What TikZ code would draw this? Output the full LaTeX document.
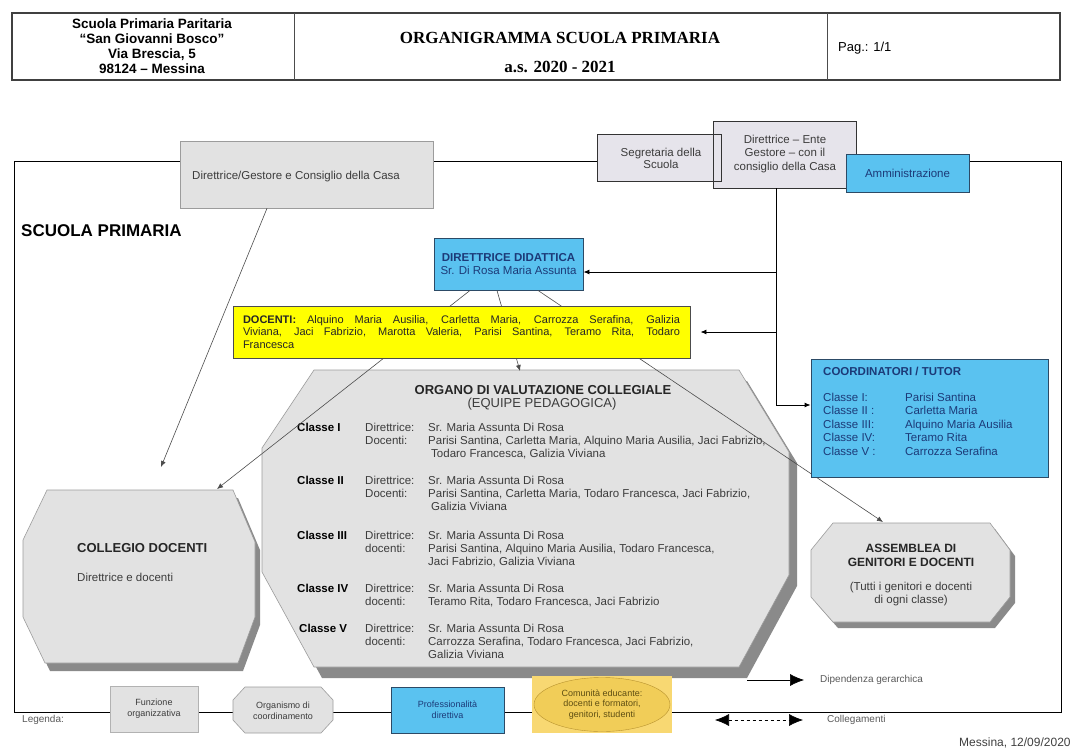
\documentclass[tikz,border=0pt]{standalone}
\usepackage{fontspec}
\setmainfont{Liberation Sans}
\newfontfamily\ttlserif{Liberation Serif}
\usetikzlibrary{arrows.meta,shapes.geometric}
\definecolor{boxgray}{HTML}{E2E2E2}
\definecolor{boxedge}{HTML}{9C9C9C}
\definecolor{lav}{HTML}{E6E4EB}
\definecolor{sky}{HTML}{5AC2F0}
\definecolor{navy}{HTML}{1C3A78}
\definecolor{skyedge}{HTML}{2C4A66}
\definecolor{ylw}{HTML}{FFFF00}
\definecolor{goldbg}{HTML}{F8D872}
\definecolor{goldel}{HTML}{F1CD58}
\definecolor{goldedge}{HTML}{B8922E}
\definecolor{goldtxt}{HTML}{5E4E12}
\definecolor{shade}{HTML}{8A8A8A}
\definecolor{txt}{HTML}{3C3C3C}
\definecolor{faint}{HTML}{5A5A5A}
\newcommand\clab[1]{\textcolor{black}{\textbf{#1}}}
\begin{document}
\begin{tikzpicture}[x=1pt,y=-1pt,
  gbox/.style={draw=boxedge,fill=boxgray,line width=0.7pt,inner sep=0pt},
  lbox/.style={fill=lav,inner sep=0pt},
  lbord/.style={draw=black!80,line width=1pt},
  bbox/.style={draw=skyedge,fill=sky,line width=0.9pt,inner sep=0pt,text=navy},
  ybox/.style={draw=black!70,fill=ylw,line width=0.9pt,inner sep=0pt},
  conn/.style={draw=black!70,line width=0.6pt},
  arr/.style={-{Latex[length=6pt,width=5pt]}},
  bigtip/.style={line width=0.6pt},
  hline/.style={draw=black,line width=0.9pt},
  octo/.style={fill=boxgray,draw=boxedge,line width=0.6pt},
  shadowf/.style={fill=shade},
  lgtxt/.style={font=\fontsize{10}{12}\selectfont,text=faint,inner sep=0pt},
  cls/.style={anchor=north west,inner sep=0pt,font=\fontsize{11.5}{13}\selectfont,text=txt},
]
\useasboundingbox (0,0) rectangle (1073,749);
\fill[white] (0,0) rectangle (1073,749);

% ---------- header ----------
\draw[line width=1.5pt,draw=black!75] (12,13) rectangle (1060,80);
\draw[line width=1pt,draw=black!70] (294,13) -- (294,80) (827,13) -- (827,80);
\node[font=\bfseries\fontsize{13.5}{15.2}\selectfont,align=center,inner sep=0pt] (hschool) at (152,46) {Scuola Primaria Paritaria\\``San Giovanni Bosco''\\Via Brescia, 5\\98124 – Messina};
\node[font={\ttlserif\bfseries\fontsize{17}{29}\selectfont},align=center,inner sep=0pt] (htitle) at (560,52) {ORGANIGRAMMA SCUOLA PRIMARIA\\a.s. 2020 - 2021};
\node[font=\fontsize{13}{15}\selectfont,anchor=west,inner sep=0pt] (hpag) at (838,48) {Pag.: 1/1};

% ---------- frame ----------
\draw[hline] (14,161) rectangle (1061,712);
\node[font=\bfseries\fontsize{17}{20}\selectfont,anchor=west,inner sep=0pt] (sp) at (21,231) {SCUOLA PRIMARIA};

% ---------- organo ----------
\begin{scope}[shift={(8,11)}]
\fill[shadowf] (314,370) -- (739,370) -- (789,452) -- (789,575) -- (739,667) -- (314,667) -- (262,572) -- (262,448) -- cycle;
\end{scope}
\filldraw[octo] (314,370) -- (739,370) -- (789,452) -- (789,575) -- (739,667) -- (314,667) -- (262,572) -- (262,448) -- cycle;
\node[inner sep=0pt,font=\bfseries\fontsize{13}{13}\selectfont,text=black!85] (orgt) at (543,390) {ORGANO DI VALUTAZIONE COLLEGIALE};
\node[inner sep=0pt,font=\fontsize{13}{13}\selectfont,text=txt] (orgs) at (542,404) {(EQUIPE PEDAGOGICA)};
\node[cls] (c1) at (297,422) {\begin{tabular}{@{}p{68pt}@{}p{63pt}@{}l@{}}\clab{Classe I} & Direttrice: & Sr. Maria Assunta Di Rosa\\ & Docenti: & Parisi Santina, Carletta Maria, Alquino Maria Ausilia, Jaci Fabrizio,\\ & & \hspace{3pt}Todaro Francesca, Galizia Viviana\end{tabular}};
\node[cls] (c2) at (297,475) {\begin{tabular}{@{}p{68pt}@{}p{63pt}@{}l@{}}\clab{Classe II} & Direttrice: & Sr. Maria Assunta Di Rosa\\ & Docenti: & Parisi Santina, Carletta Maria, Todaro Francesca, Jaci Fabrizio,\\ & & \hspace{3pt}Galizia Viviana\end{tabular}};
\node[cls] (c3) at (297,530) {\begin{tabular}{@{}p{68pt}@{}p{63pt}@{}l@{}}\clab{Classe III} & Direttrice: & Sr. Maria Assunta Di Rosa\\ & docenti: & Parisi Santina, Alquino Maria Ausilia, Todaro Francesca,\\ & & Jaci Fabrizio, Galizia Viviana\end{tabular}};
\node[cls] (c4) at (297,583) {\begin{tabular}{@{}p{68pt}@{}p{63pt}@{}l@{}}\clab{Classe IV} & Direttrice: & Sr. Maria Assunta Di Rosa\\ & docenti: & Teramo Rita, Todaro Francesca, Jaci Fabrizio\end{tabular}};
\node[cls] (c5) at (299,623) {\begin{tabular}{@{}p{66pt}@{}p{63pt}@{}l@{}}\clab{Classe V} & Direttrice: & Sr. Maria Assunta Di Rosa\\ & docenti: & Carrozza Serafina, Todaro Francesca, Jaci Fabrizio,\\ & & Galizia Viviana\end{tabular}};

% ---------- collegio ----------
\begin{scope}[shift={(5,8)}]
\fill[shadowf] (47,490) -- (233,490) -- (255,542) -- (255,617) -- (238,663) -- (45,663) -- (23,617) -- (23,540) -- cycle;
\end{scope}
\filldraw[octo] (47,490) -- (233,490) -- (255,542) -- (255,617) -- (238,663) -- (45,663) -- (23,617) -- (23,540) -- cycle;
\node[anchor=west,inner sep=0pt,font=\bfseries\fontsize{13}{15}\selectfont,text=black!85] (colt) at (77,548) {COLLEGIO DOCENTI};
\node[anchor=west,inner sep=0pt,font=\fontsize{11.5}{13}\selectfont,text=txt] (cols) at (77,577) {Direttrice e docenti};

% ---------- assemblea ----------
\begin{scope}[shift={(5,6)}]
\fill[shadowf] (833,523) -- (990,523) -- (1010,550) -- (1010,597) -- (990,622) -- (833,622) -- (811,597) -- (811,550) -- cycle;
\end{scope}
\filldraw[octo] (833,523) -- (990,523) -- (1010,550) -- (1010,597) -- (990,622) -- (833,622) -- (811,597) -- (811,550) -- cycle;
\node[align=center,inner sep=0pt,font=\bfseries\fontsize{12}{14}\selectfont,text=black!85] (asst) at (911,555) {ASSEMBLEA DI\\GENITORI E DOCENTI};
\node[align=center,inner sep=0pt,font=\fontsize{11.5}{12.5}\selectfont,text=txt] (asss) at (911,594) {(Tutti i genitori e docenti\\di ogni classe)};

% ---------- connector end points ----------
\coordinate (colNE) at (217,489);
\coordinate (orgN) at (520,371);
\coordinate (assN) at (883,522);
\coordinate (dgcend) at (161,467);

% ---------- direttrice didattica + lines ----------
\node[bbox,minimum width=149pt,minimum height=52pt,align=center,font=\fontsize{11.5}{13}\selectfont] (dird) at (508.5,264) {\textbf{DIRETTRICE DIDATTICA}\\Sr. Di Rosa Maria Assunta};
\draw[conn,arr] ([xshift=-38.5pt]dird.south) -- (colNE);
\draw[conn,arr] ([xshift=-11.5pt]dird.south) -- (orgN);
\draw[conn,arr] ([xshift=29.5pt]dird.south) -- (assN);

\node[ybox,minimum width=457pt,minimum height=52pt,text width=437pt,align=justify,font=\fontsize{11}{12.5}\selectfont,text=black!85] (doc) at (461.5,332) {\textbf{DOCENTI:} Alquino Maria Ausilia, Carletta Maria, Carrozza Serafina, Galizia\linebreak Viviana, Jaci Fabrizio, Marotta Valeria, Parisi Santina, Teramo Rita, Todaro\linebreak Francesca};

% ---------- top boxes ----------
\node[gbox,minimum width=253pt,minimum height=67pt] (dgc) at (306.5,174.5) {};
\node[anchor=west,inner sep=0pt,font=\fontsize{11.5}{13}\selectfont,text=txt] (dgct) at (192,177) {Direttrice/Gestore e Consiglio della Casa};
\draw[conn,arr] ([xshift=-39.5pt]dgc.south) -- (dgcend);

\node[lbox,minimum width=142pt,minimum height=66pt] (dep) at (785,155) {};
\node[lbox,minimum width=123pt,minimum height=46pt] (sec) at (659.5,158) {};
\draw[lbord] (dep.south west) rectangle (dep.north east);
\draw[lbord] (sec.south west) rectangle (sec.north east);
\node[align=center,text=txt,inner sep=0pt,font=\fontsize{11.5}{13.5}\selectfont] (dept) at (785,154) {Direttrice – Ente\\Gestore – con il\\consiglio della Casa};
\node[align=center,text=txt,inner sep=0pt,font=\fontsize{11.5}{12}\selectfont] (sect) at (661,158) {Segretaria della\\Scuola};
\node[bbox,minimum width=123pt,minimum height=38pt,font=\fontsize{11.5}{13}\selectfont] (amm) at (907.5,173) {Amministrazione};

% ---------- coordinatori ----------
\node[bbox,minimum width=237pt,minimum height=118pt] (coord) at (929.5,418) {};
\node[anchor=west,inner sep=0pt,text=navy,font=\bfseries\fontsize{11.5}{13}\selectfont] (coordt) at (823,371) {COORDINATORI / TUTOR};
\node[anchor=north west,inner sep=0pt,text=navy,font=\fontsize{11.5}{13.5}\selectfont] (coordl) at (823,391.5) {\begin{tabular}{@{}p{82pt}@{}l@{}}Classe I: & Parisi Santina\\ Classe II : & Carletta Maria\\ Classe III: & Alquino Maria Ausilia\\ Classe IV: & Teramo Rita\\ Classe V : & Carrozza Serafina\end{tabular}};

% ---------- vertical distribution line ----------
\coordinate (v1) at (776,272);
\coordinate (v2) at (776,332);
\coordinate (v3) at (776,405);
\draw[hline] (v1 |- dep.south) -- (v3);
\draw[hline,arr] (v1) -- (dird.east |- v1);
\draw[hline,arr,shorten >=10pt] (v2) -- (doc.east |- v2);
\draw[hline,arr] (v3) -- (coord.west |- v3);

% ---------- legend ----------
\node[gbox,draw=black!30,minimum width=88pt,minimum height=46pt,align=center,font=\fontsize{9}{11}\selectfont,text=txt] (lfun) at (154,709) {Funzione\\organizzativa};
\filldraw[octo] (245,687) -- (321,687) -- (333,700) -- (333,720) -- (321,733) -- (245,733) -- (233,720) -- (233,700) -- cycle;
\node[align=center,font=\fontsize{9}{11}\selectfont,text=txt,inner sep=0pt] (lorg) at (283,711) {Organismo di\\coordinamento};
\node[bbox,minimum width=113pt,minimum height=46pt,align=center,font=\fontsize{9}{11}\selectfont] (lpro) at (447.5,710) {Professionalità\\direttiva};
\node[fill=goldbg,minimum width=140pt,minimum height=57pt,inner sep=0pt] (lcombg) at (602,704.5) {};
\node[ellipse,draw=goldedge,fill=goldel,minimum width=136pt,minimum height=54pt,inner sep=0pt,align=center,font=\fontsize{9}{10.5}\selectfont,text=goldtxt] (lcom) at (lcombg.center) {Comunità educante:\\docenti e formatori,\\genitori, studenti};

\coordinate (dg1) at (747,680);
\coordinate (dg2) at (804,680);
\draw[bigtip,-{Latex[length=14pt,width=12pt]}] (dg1) -- (dg2);
\node[lgtxt,anchor=west] (ldip) at (820,680) {Dipendenza gerarchica};
\coordinate (cg1) at (715,720);
\coordinate (cg2) at (803,720);
\draw[bigtip,dashed,{Latex[length=14pt,width=12pt]}-{Latex[length=14pt,width=12pt]}] (cg1) -- (cg2);
\node[lgtxt,anchor=west] (lcol) at (827,720) {Collegamenti};
\node[lgtxt,anchor=west] (lleg) at (22,720) {Legenda:};
\node[anchor=west,inner sep=0pt,font=\fontsize{12}{14}\selectfont,text=black!75] (mes) at (959,743) {Messina, 12/09/2020};
\end{tikzpicture}
\end{document}
